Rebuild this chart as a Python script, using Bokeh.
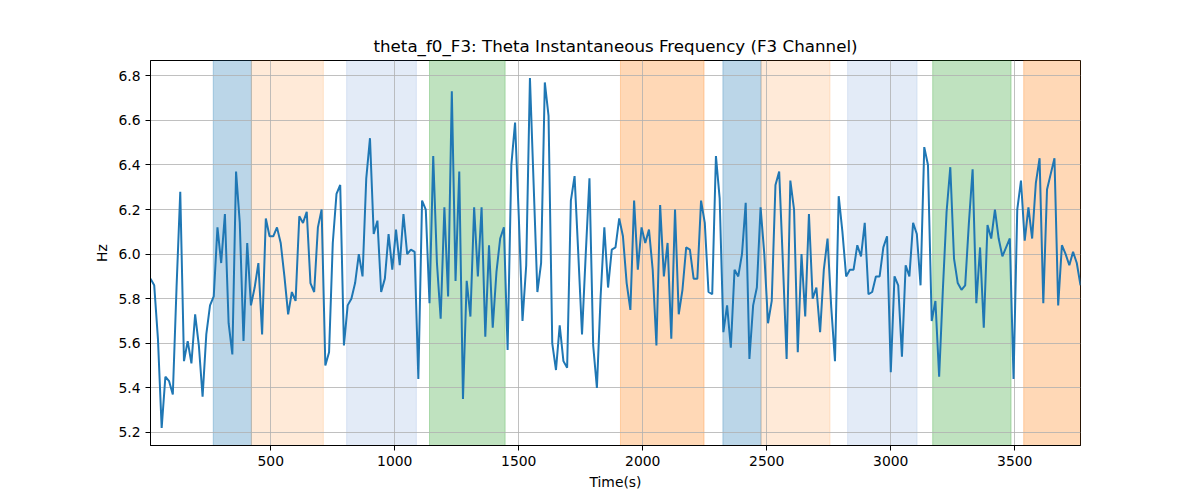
from bokeh.plotting import figure
from bokeh.models import BoxAnnotation, Range1d, FixedTicker, NumeralTickFormatter, ColumnDataSource
from bokeh.embed import file_html
from bokeh.resources import INLINE

# sampling grid of the instantaneous frequency (one value every 15 s)
t_start = 15
t_step = 15

# theta instantaneous frequency, F3 channel (Hz)
freq = [
    5.89, 5.86, 5.62, 5.22, 5.45, 5.43, 5.37, 5.85, 6.28, 5.52,
    5.61, 5.51, 5.73, 5.59, 5.36, 5.64, 5.77, 5.81, 6.12, 5.96,
    6.18, 5.69, 5.55, 6.37, 6.14, 5.61, 6.05, 5.77, 5.85, 5.96,
    5.64, 6.16, 6.08, 6.08, 6.12, 6.05, 5.90, 5.73, 5.83, 5.79,
    6.17, 6.14, 6.19,
    5.87, 5.83, 6.12, 6.20, 5.50, 5.56, 6.05, 6.27, 6.31, 5.59,
    5.77, 5.80, 5.87, 6.00, 5.90, 6.34, 6.52, 6.09, 6.15, 5.83,
    5.89, 6.09, 5.93, 6.11, 5.95, 6.18, 6.00, 6.02, 6.01, 5.44,
    6.24, 6.20, 5.78, 6.44, 5.96, 5.71, 6.21, 5.81, 6.73, 5.88,
    6.37,
    5.35, 5.88, 5.72, 6.21, 5.90, 6.21, 5.63, 6.04, 5.67, 5.92,
    6.07, 6.12, 5.57, 6.40, 6.59, 6.17, 5.70, 5.95, 6.79, 6.31,
    5.83, 5.96, 6.77, 6.62, 5.60, 5.48, 5.68, 5.52, 5.49, 6.24,
    6.35, 6.00, 5.64, 6.00, 6.34, 5.59, 5.40, 5.81, 6.12, 5.85,
    6.02, 6.03,
    6.16, 6.08, 5.87, 5.75, 6.24, 5.93, 6.12, 6.05, 6.11, 5.93,
    5.59, 6.22, 5.90, 6.05, 5.62, 6.20, 5.73, 5.84, 6.03, 6.02,
    5.89, 5.89, 6.24, 6.14, 5.83, 5.82, 6.44, 6.25, 5.65, 5.77,
    5.58, 5.93, 5.90, 6.00, 6.23, 5.53, 5.77, 5.85, 6.21, 6.00,
    5.69,
    5.79, 6.31, 6.37, 5.96, 5.53, 6.33, 6.20, 5.56, 6.00, 5.72,
    6.18, 5.80, 5.85, 5.65, 5.93, 6.07, 5.76, 5.52, 6.26, 6.10,
    5.90, 5.93, 5.93, 6.04, 5.99, 6.14, 5.82, 5.83, 5.90, 5.90,
    6.03, 6.08, 5.47, 5.90, 5.86, 5.54, 5.95, 5.90, 6.14, 6.09,
    5.86, 6.48,
    6.40, 5.70, 5.79, 5.45, 5.84, 6.19, 6.39, 5.98, 5.87, 5.84,
    5.86, 6.14, 6.38, 5.78, 6.03, 5.67, 6.13, 6.07, 6.20, 6.07,
    5.99, 6.03, 6.07, 5.44, 6.20, 6.33, 6.06, 6.21, 6.07, 6.32,
    6.43, 5.78, 6.29, 6.36, 6.43, 5.77, 6.04, 6.00, 5.95, 6.01,
    5.96, 5.86,
]
t = [t_start + i * t_step for i in range(len(freq))]

# shaded segments (start, end in s) and their segment type
seg_start = [268, 422, 806, 1140, 1910, 2323, 2477, 2826, 3169, 3536]
seg_end = [422, 712, 1087, 1445, 2247, 2477, 2755, 3106, 3485, 3800]
seg_type = ["A", "B", "C", "D", "E", "A", "B", "C", "D", "E"]

x_ticks = [500, 1000, 1500, 2000, 2500, 3000, 3500]
y_ticks = [5.2, 5.4, 5.6, 5.8, 6.0, 6.2, 6.4, 6.6, 6.8]

# colour / alpha for each segment type
seg_style = {
    "A": ("#1f77b4", 0.3),
    "B": ("#ff7f0e", 0.16),
    "C": ("#3a6fc4", 0.14),
    "D": ("#2ca02c", 0.3),
    "E": ("#ff7f0e", 0.3),
}

pad = 0.05 * (max(freq) - min(freq))
p = figure(width=1200, height=500,
           title="theta_f0_F3: Theta Instantaneous Frequency (F3 Channel)",
           x_range=Range1d(t[0], t[-1]),
           y_range=Range1d(min(freq) - pad, max(freq) + pad),
           output_backend="svg", toolbar_location=None,
           min_border_left=150, min_border_right=120,
           min_border_top=60, min_border_bottom=55)

# shaded segments, drawn below the grid
for s, e, k in zip(seg_start, seg_end, seg_type):
    c, a = seg_style[k]
    p.add_layout(BoxAnnotation(left=s, right=e, fill_color=c, fill_alpha=a,
                               line_color=c, line_alpha=a, line_width=1,
                               level="image"))

src = ColumnDataSource(data=dict(t=t, f=freq))
p.line("t", "f", source=src, line_color="#1f77b4", line_width=2)

# title
p.title.align = "center"
p.title.text_font = "DejaVu Sans"
p.title.text_font_style = "normal"
p.title.text_font_size = "16.7px"
p.title.text_color = "black"

# axes
p.xaxis.ticker = FixedTicker(ticks=x_ticks)
p.yaxis.ticker = FixedTicker(ticks=y_ticks)
p.yaxis.formatter = NumeralTickFormatter(format="0.0")
p.xaxis.axis_label = "Time(s)"
p.yaxis.axis_label = "Hz"
for ax in (p.xaxis, p.yaxis):
    ax.axis_line_color = "black"
    ax.major_tick_line_color = "black"
    ax.minor_tick_line_color = None
    ax.major_tick_out = 5
    ax.major_tick_in = 0
    ax.major_label_text_font = "DejaVu Sans"
    ax.major_label_text_font_size = "13.9px"
    ax.major_label_text_color = "black"
    ax.axis_label_text_font = "DejaVu Sans"
    ax.axis_label_text_font_size = "13.9px"
    ax.axis_label_text_font_style = "normal"
    ax.axis_label_text_color = "black"

p.grid.grid_line_color = "#b0b0b0"
p.grid.grid_line_width = 0.8
p.outline_line_color = "black"
p.outline_line_alpha = 1
p.outline_line_width = 1

open("out.html", "w").write(file_html(p, INLINE))
